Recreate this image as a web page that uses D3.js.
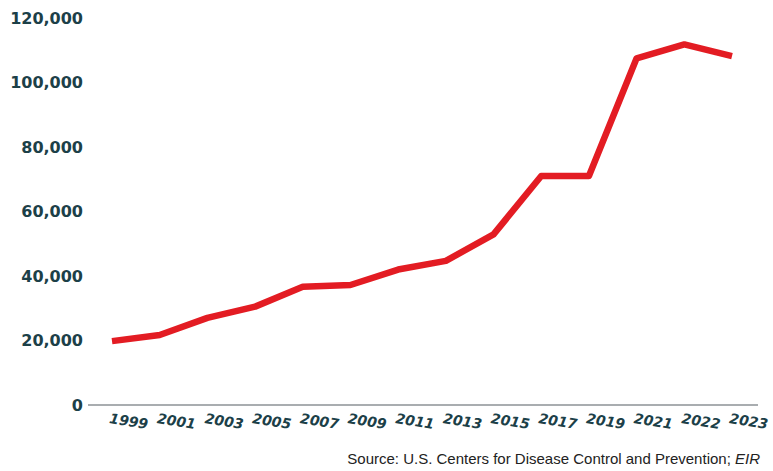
<!DOCTYPE html>
<html>
<head>
<meta charset="utf-8">
<script src="https://cdn.jsdelivr.net/npm/d3@7"></script>
<style>
  body { margin: 0; background: #fff; }
  svg { display: block; }
</style>
</head>
<body>
<svg></svg>
<script>
// overdose deaths
var years = ["1999", "2001", "2003", "2005", "2007", "2009", "2011", "2013", "2015", "2017", "2019", "2021", "2022", "2023"];
var deaths = [19800, 21700, 27000, 30500, 36700, 37200, 42000, 44700, 52900, 71000, 71000, 107500, 111800, 108200];
var yTicks = [0, 20000, 40000, 60000, 80000, 100000, 120000];

var width = 773, height = 471;
var svg = d3.select("svg")
    .attr("width", width)
    .attr("height", height);

var x = d3.scalePoint().domain(years).range([112, 732]);
var y = d3.scaleLinear().domain([0, 120000]).range([405, 18]);

var tealText = "#1c4048";

// baseline
svg.append("line")
    .attr("x1", 88).attr("x2", 758)
    .attr("y1", y(0)).attr("y2", y(0))
    .attr("stroke", "#a9adb0")
    .attr("stroke-width", 2);

// y labels
svg.append("g")
    .selectAll("text")
    .data(yTicks)
    .enter()
    .append("text")
    .attr("x", 83)
    .attr("y", function(d) { return y(d); })
    .attr("dy", "0.36em")
    .attr("text-anchor", "end")
    .attr("font-family", "DejaVu Sans")
    .attr("font-weight", "bold")
    .attr("font-size", 16)
    .attr("fill", tealText)
    .text(function(d) { return d3.format(",")(d); });

// x labels, tilted
svg.append("g")
    .selectAll("text")
    .data(years)
    .enter()
    .append("text")
    .attr("transform", function(d) {
        return "translate(" + (x(d) + 16) + ",426) rotate(9)";
    })
    .attr("text-anchor", "middle")
    .attr("font-family", "DejaVu Sans")
    .attr("font-weight", "bold")
    .attr("font-style", "italic")
    .attr("font-size", 14)
    .attr("fill", tealText)
    .text(function(d) { return d; });

// line
var line = d3.line()
    .x(function(d, i) { return x(years[i]); })
    .y(function(d) { return y(d); });

svg.append("path")
    .datum(deaths)
    .attr("d", line)
    .attr("fill", "none")
    .attr("stroke", "#e31c23")
    .attr("stroke-width", 6.5)
    .attr("stroke-linejoin", "round");

// source
var src = svg.append("text")
    .attr("x", 760)
    .attr("y", 464)
    .attr("text-anchor", "end")
    .attr("font-family", "Liberation Sans")
    .attr("font-size", 15)
    .attr("fill", "#222");
src.append("tspan").text("Source: U.S. Centers for Disease Control and Prevention; ");
src.append("tspan").attr("font-style", "italic").text("EIR");
</script>
</body>
</html>
